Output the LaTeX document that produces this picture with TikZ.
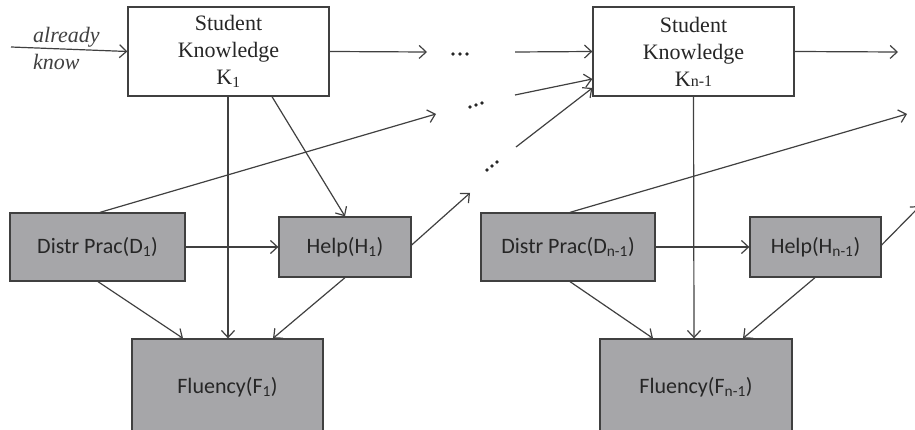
\documentclass[tikz,border=0pt]{standalone}
\usepackage{fontspec}
\setmainfont{Liberation Serif}
\newfontfamily\calfont{Carlito}
\usetikzlibrary{arrows.meta}
\definecolor{boxgray}{RGB}{166,166,169}
\definecolor{linegray}{RGB}{64,64,64}
\begin{document}
\begin{tikzpicture}[x=1pt,y=-1pt,
  kbox/.style={draw=linegray,line width=1.3pt,fill=white,minimum width=201pt,minimum height=89pt,inner sep=0pt,align=center,font=\fontsize{22}{27}\selectfont,text=black!85},
  gbox/.style={draw=linegray,line width=1.3pt,fill=boxgray,inner sep=0pt,font=\calfont\fontsize{22}{26}\selectfont,text=black!85},
  conn/.style={draw=linegray,line width=1.2pt,-{Straight Barb[length=7pt,width=13pt,line width=1.2pt]}},
  dotc/.style={fill=black!85}]
\useasboundingbox (0,0) rectangle (915,430);
\clip (0,0) rectangle (915,430);
% nodes
\node[kbox] (K1) at (228.5,51.5) {Student\\Knowledge\\K\textsubscript{1}};
\node[kbox] (Kn) at (693.5,51.5) {Student\\Knowledge\\K{\fontsize{16}{16}\selectfont n-1}};
\node[gbox,minimum width=175pt,minimum height=68pt] (D1) at (97.5,247) {Distr Prac(D\textsubscript{1})};
\node[gbox,minimum width=132pt,minimum height=60pt] (H1) at (345,247) {Help(H\textsubscript{1})};
\node[gbox,minimum width=191pt,minimum height=96pt] (F1) at (227.5,387) {Fluency(F\textsubscript{1})};
\node[gbox,minimum width=174pt,minimum height=68pt] (Dn) at (568,247) {Distr Prac(D\textsubscript{n-1})};
\node[gbox,minimum width=131pt,minimum height=60pt] (Hn) at (815.5,247) {Help(H\textsubscript{n-1})};
\node[gbox,minimum width=192pt,minimum height=96pt] (Fn) at (696,387) {Fluency(F\textsubscript{n-1})};
% labels
\node[anchor=west,inner sep=0pt,font=\itshape\fontsize{22}{22}\selectfont,text=black!75] (lal) at (33,37) {already};
\node[anchor=west,inner sep=0pt,font=\itshape\fontsize{22}{22}\selectfont,text=black!75] (lkn) at (33,62) {know};
% dots
\foreach \p in {(453,54),(460,54),(467,54),(470,107),(476,105),(482,103),(487,170),(492,166),(497,162)}
  \fill[dotc] \p circle (1.9pt);
% free ends
\coordinate (a0) at (11,47);
\coordinate (e1) at (427,52);
\coordinate (s2) at (515,52);
\coordinate (s3) at (515,95);
\coordinate (s4) at (516,147);
\coordinate (e6) at (898,52);
\coordinate (e7) at (436,114);
\coordinate (e8) at (907,114);
\coordinate (e12) at (470,193);
\coordinate (e19) at (920,206);
% connectors
\draw[conn] (a0) -- (K1.west);
\draw[conn] (K1.east) -- (e1);
\draw[conn] (s2) -- (Kn.west);
\draw[conn] (s3) -- ([yshift=-27.5pt]Kn.west);
\draw[conn] (s4) -- ([yshift=-36.5pt]Kn.west);
\draw[conn] (Kn.east) -- (e6);
\draw[conn] ([xshift=2.5pt]D1.north) -- (e7);
\draw[conn] ([xshift=2pt]Dn.north) -- (e8);
\draw[conn] ([xshift=-0.5pt]K1.south) -- ([xshift=0.5pt]F1.north);
\draw[conn] ([xshift=43.5pt]K1.south) -- (H1.north);
\draw[conn] (D1.east) -- (H1.west);
\draw[conn] ([yshift=2pt]H1.east) -- (e12);
\draw[conn] ([xshift=0.5pt]D1.south) -- ([xshift=-44.5pt]F1.north);
\draw[conn] (H1.south) -- ([xshift=45.5pt]F1.north);
\draw[conn] (Kn.south) -- ([xshift=-2pt]Fn.north);
\draw[conn] (Dn.east) -- (Hn.west);
\draw[conn] ([xshift=2pt]Dn.south) -- ([xshift=-43pt]Fn.north);
\draw[conn] ([xshift=-0.5pt]Hn.south) -- ([xshift=47pt]Fn.north);
\draw[conn] ([yshift=2pt]Hn.east) -- (e19);
\end{tikzpicture}
\end{document}
